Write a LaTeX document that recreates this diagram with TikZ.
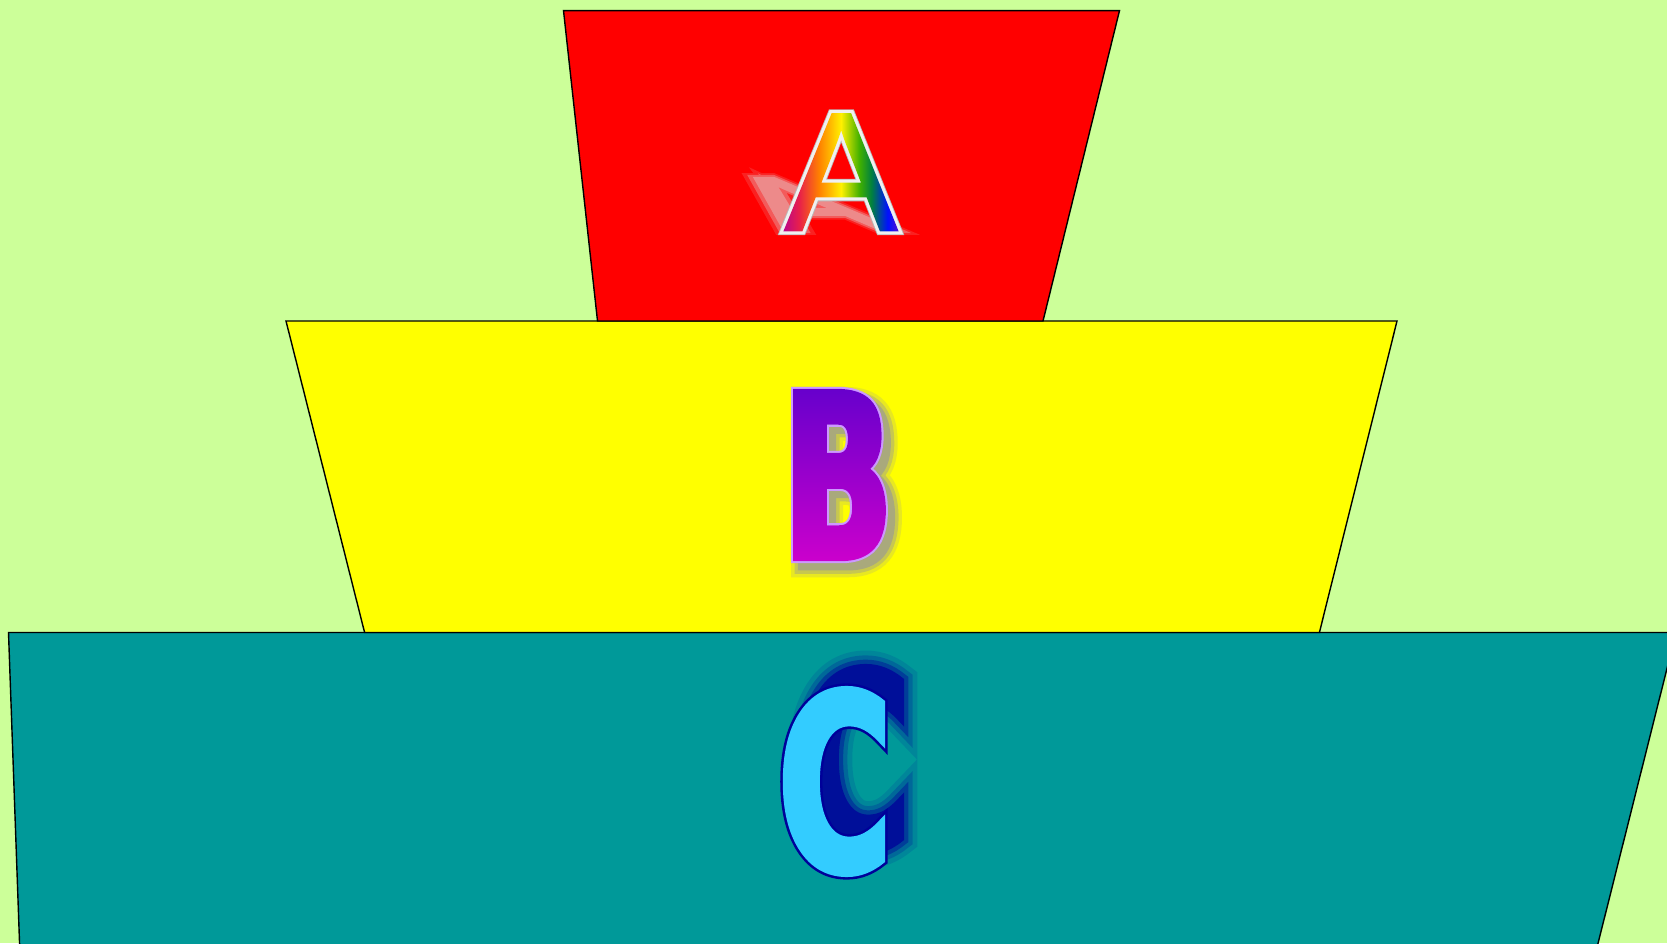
\documentclass[tikz,border=0pt]{standalone}
\usepackage{fontspec}
\usetikzlibrary{fadings,calc}
% A fonts
\newfontfamily\fAfill{Liberation Sans}[FakeBold=1.5]
\newfontfamily\fAwhite{Liberation Sans}[FakeBold=5.1]
\newfontfamily\fAgray{Liberation Sans}[FakeBold=6.1]
\newfontfamily\fAsha{Liberation Sans}[FakeBold=3]
\newfontfamily\fAshb{Liberation Sans}[FakeBold=8]
\newfontfamily\fAshc{Liberation Sans}[FakeBold=13]
% B fonts
\newfontfamily\fBfill{DejaVu Sans Bold}[FakeStretch=0.63,FakeBold=3]
\newfontfamily\fBline{DejaVu Sans Bold}[FakeStretch=0.63,FakeBold=4.8]
\newfontfamily\fBsha{DejaVu Sans Bold}[FakeStretch=0.63,FakeBold=5]
\newfontfamily\fBshb{DejaVu Sans Bold}[FakeStretch=0.63,FakeBold=8]
\newfontfamily\fBshc{DejaVu Sans Bold}[FakeStretch=0.63,FakeBold=11]
% C fonts
\newfontfamily\fCfill{DejaVu Sans Bold}[FakeStretch=0.63,FakeBold=3]
\newfontfamily\fCline{DejaVu Sans Bold}[FakeStretch=0.63,FakeBold=5.1]
\newfontfamily\fCsha{DejaVu Sans Bold}[FakeStretch=0.63,FakeBold=3]
\newfontfamily\fCshb{DejaVu Sans Bold}[FakeStretch=0.63,FakeBold=6.5]
\newfontfamily\fCshc{DejaVu Sans Bold}[FakeStretch=0.63,FakeBold=10]
\newfontfamily\fCshd{DejaVu Sans Bold}[FakeStretch=0.63,FakeBold=14]
\newcommand\SzA{\fontsize{168}{168}\selectfont}
\newcommand\SzB{\fontsize{227}{227}\selectfont}
\newcommand\SzC{\fontsize{243}{243}\selectfont}
\newcommand\PadBox[1]{\kern12pt\raisebox{0pt}[\dimexpr\height+12pt\relax][\dimexpr\depth+12pt\relax]{#1}\kern12pt}
\definecolor{bgc}{HTML}{CCFF99}
\definecolor{tealc}{HTML}{009999}
\definecolor{yelc}{HTML}{FFFF00}
\definecolor{redc}{HTML}{FF0000}
\definecolor{bTop}{HTML}{6600CC}
\definecolor{bBot}{HTML}{CC00CC}
\definecolor{lav}{HTML}{CC99FF}
\definecolor{shB}{HTML}{8C8CA8}
\definecolor{cFill}{HTML}{33CCFF}
\definecolor{cDark}{HTML}{000099}
\definecolor{shA}{HTML}{E4E4E4}
\definecolor{ra1}{HTML}{B0009A}
\definecolor{ra2}{HTML}{E8204A}
\definecolor{ra3}{HTML}{FF8000}
\definecolor{ra4}{HTML}{FFF000}
\definecolor{ra5}{HTML}{40B000}
\definecolor{ra6}{HTML}{008040}
\definecolor{ra7}{HTML}{0010FF}
\definecolor{ra8}{HTML}{7010C0}
\pgfdeclarehorizontalshading{rainbowA}{100bp}{color(0bp)=(ra1); color(25bp)=(ra1); color(33bp)=(ra2); color(41bp)=(ra3); color(50bp)=(ra4); color(57.5bp)=(ra5); color(62.4bp)=(ra6); color(69bp)=(ra7); color(75bp)=(ra8); color(100bp)=(ra8)}
\tikzset{
  layer/.style={line width=1.4pt, draw=black},
  glyph/.style={inner sep=12pt},
  soft/.style={transparency group, opacity=#1}
}
\begin{document}
\begin{tikzpicture}[x=1pt,y=1pt]
\pgfinterruptpicture
\pgfdeclarefading{fadeA}{\PadBox{\color{white}\fAfill\SzA A}}%
\pgfdeclarefading{fadeB}{\PadBox{\color{white}\fBfill\SzB B}}%
\endpgfinterruptpicture
\useasboundingbox (0,0) rectangle (1667,943);
\fill[bgc] (0,0) rectangle (1667,943);
\begin{scope}
\clip (0,0) rectangle (1667,943);
\draw[layer, fill=tealc] (8.5,310.5) -- (1676,310.5) -- (1595.6,-10) -- (19.9,-10) -- cycle;
\end{scope}
\draw[layer, fill=yelc] (286,622) -- (1397,622) -- (1319.4,310.5) -- (364.6,310.5) -- cycle;
\draw[layer, fill=redc] (563.5,932.4) -- (1119.5,932.4) -- (1043,622) -- (597.5,622) -- cycle;
% ---- A ----
\begin{scope}[shift={(841,713)}, cm={1,0,-0.66,0.45,(0,0)}]
  \begin{scope}[soft=0.15]
    \node[transform shape, anchor=base, inner sep=0pt, text=shA] (sa1) at (0,0) {\fAshc\SzA A};
  \end{scope}
  \begin{scope}[soft=0.3]
    \node[transform shape, anchor=base, inner sep=0pt, text=shA] (sa2) at (0,0) {\fAshb\SzA A};
  \end{scope}
  \begin{scope}[soft=0.35]
    \node[transform shape, anchor=base, inner sep=0pt, text=shA] (sa3) at (0,0) {\fAsha\SzA A};
  \end{scope}
\end{scope}
\node[glyph, anchor=base, text=gray!55] (oa) at (841,713) {\fAgray\SzA A};
\node[glyph, anchor=base, text=white!94!black] (wa) at (841,713) {\fAwhite\SzA A};
\node[glyph, anchor=base] (A) at (841,713) {\phantom{\fAfill\SzA A}};
\shade[shading=rainbowA, path fading=fadeA, fit fading=false, fading transform={shift={(A.center)}}] ($(A.center)+(-61.5,-70)$) rectangle ($(A.center)+(61.5,70)$);
% ---- B ----
\begin{scope}[soft=0.2]
  \node[glyph, text=shB] (sb3) at (845,461) {\fBshc\SzB B};
\end{scope}
\begin{scope}[soft=0.35]
  \node[glyph, text=shB] (sb2) at (845,461) {\fBshb\SzB B};
\end{scope}
\begin{scope}[soft=0.5]
  \node[glyph, text=shB] (sb1) at (845,461) {\fBsha\SzB B};
\end{scope}
\node[glyph, text=lav] (ob) at (838,468) {\fBline\SzB B};
\node[glyph] (B) at (838,468) {\phantom{\fBfill\SzB B}};
\shade[top color=bTop, bottom color=bBot, path fading=fadeB, fit fading=false, fading transform={shift={(B.center)}}] ($(B.center)+(-65,-88)$) rectangle ($(B.center)+(65,88)$);
% ---- C ----
\begin{scope}[soft=0.12]
  \node[glyph, text=cDark] (sc4) at (854,183.5) {\fCshd\SzC C};
\end{scope}
\begin{scope}[soft=0.22]
  \node[glyph, text=cDark] (sc3) at (854,183.5) {\fCshc\SzC C};
\end{scope}
\begin{scope}[soft=0.4]
  \node[glyph, text=cDark] (sc2) at (854,183.5) {\fCshb\SzC C};
\end{scope}
\begin{scope}[soft=0.75]
  \node[glyph, text=cDark] (sc1) at (854,183.5) {\fCsha\SzC C};
\end{scope}
\node[glyph, text=cDark] (oc) at (835,161.5) {\fCline\SzC C};
\node[glyph, text=cFill] (C) at (835,161.5) {\fCfill\SzC C};
\end{tikzpicture}
\end{document}
